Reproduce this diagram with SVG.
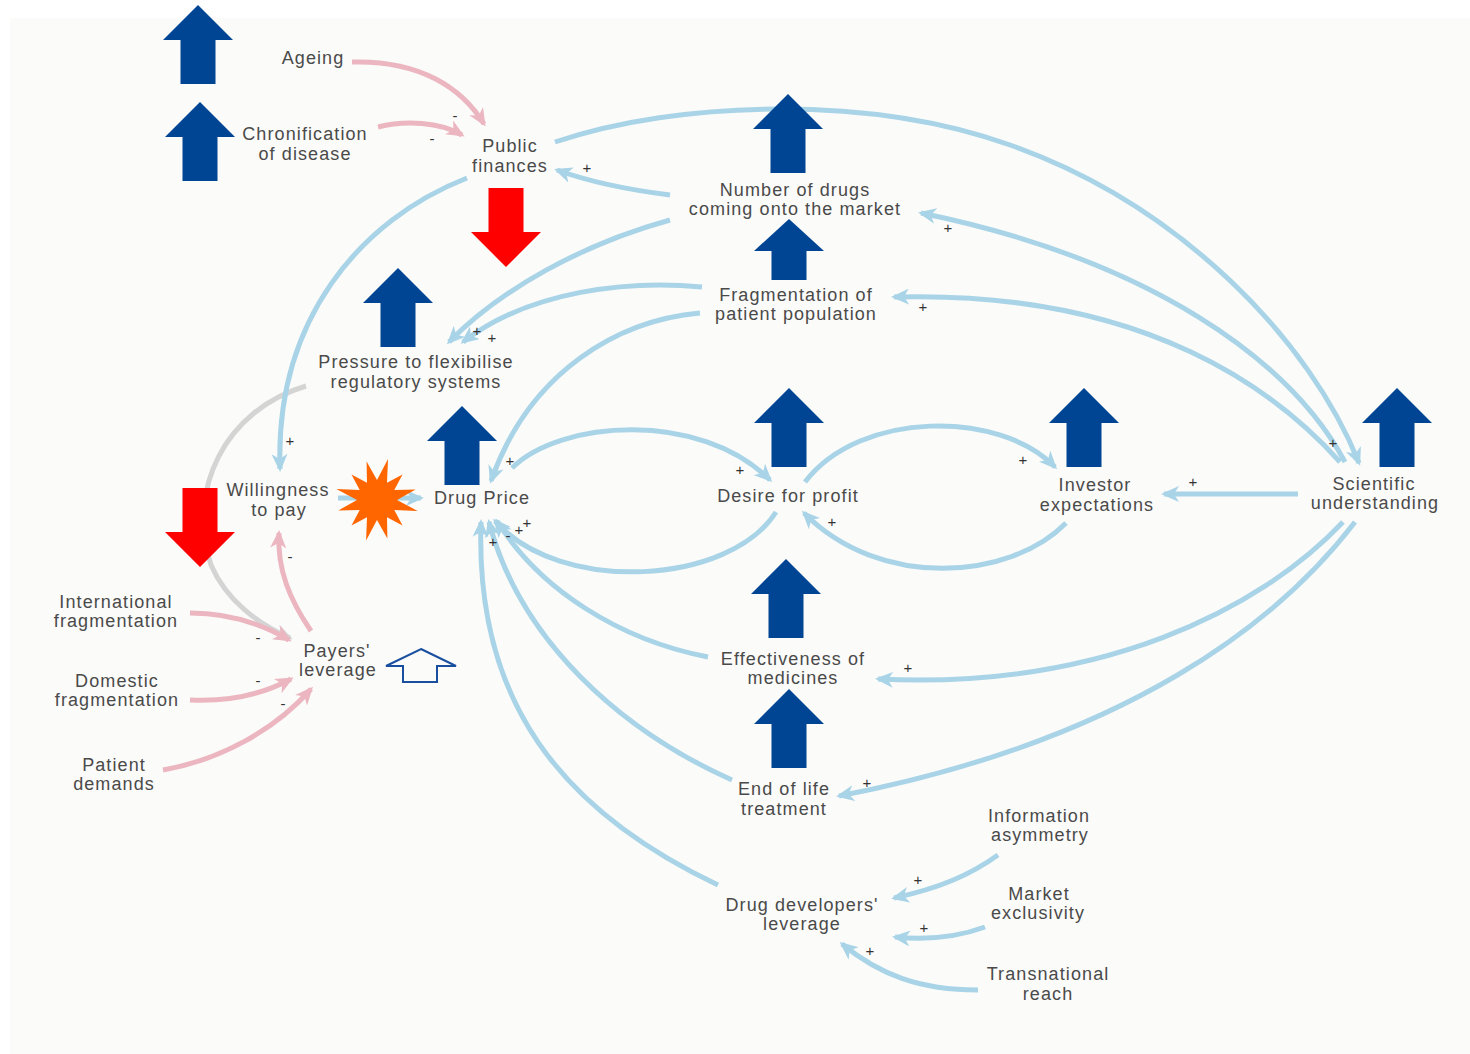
<svg xmlns="http://www.w3.org/2000/svg" xmlns:xlink="http://www.w3.org/1999/xlink" width="1470" height="1054" viewBox="0 0 1470 1054">
<style>
.t{font-family:"Liberation Sans",Arial,sans-serif;font-size:18px;fill:#4a4a4a;letter-spacing:1.1px;text-anchor:middle}
.s{font-family:"Liberation Sans",Arial,sans-serif;font-size:15px;fill:#333;text-anchor:middle}
.b{fill:none;stroke:#a9d4e7;stroke-width:5;marker-end:url(#mb)}
.p{fill:none;stroke:#ecb6c1;stroke-width:5;marker-end:url(#mp)}
.g{fill:none;stroke:#d4d4d4;stroke-width:5;marker-end:url(#mg)}
.up{fill:#004494}
.dn{fill:#ff0000}
</style>
<defs>
<marker id="mb" markerUnits="userSpaceOnUse" markerWidth="18" markerHeight="16" refX="15" refY="8" orient="auto"><path d="M0,0 L18,8 L0,16 L5,8 Z" fill="#a9d4e7"/></marker>
<marker id="mp" markerUnits="userSpaceOnUse" markerWidth="18" markerHeight="16" refX="15" refY="8" orient="auto"><path d="M0,0 L18,8 L0,16 L5,8 Z" fill="#ecb6c1"/></marker>
<marker id="mg" markerUnits="userSpaceOnUse" markerWidth="18" markerHeight="16" refX="15" refY="8" orient="auto"><path d="M0,0 L18,8 L0,16 L5,8 Z" fill="#d4d4d4"/></marker>
<path id="uparrow" d="M0,0 L35,35 L17.5,35 L17.5,79 L-17.5,79 L-17.5,35 L-35,35 Z"/>
<path id="dnarrow" d="M0,0 L-35,-35 L-17.5,-35 L-17.5,-79 L17.5,-79 L17.5,-35 L35,-35 Z"/>
</defs>
<rect x="0" y="0" width="1470" height="1054" fill="#ffffff"/>
<rect x="10" y="18" width="1460" height="1036" fill="#fbfbf9"/>

<g id="connectors">
<path class="p" d="M352,62 C420,60 462,88 484,124"/>
<path class="p" d="M378,127 C405,120 440,122 462,135"/>
<path class="g" d="M306,386 C225,410 186,490 211,565 C226,600 258,624 290,638"/>
<path class="p" d="M311,631 C290,600 277,570 279,533"/>
<path class="p" d="M190,613 C230,613 262,624 289,640"/>
<path class="p" d="M190,700 C230,702 265,693 291,679"/>
<path class="p" d="M163,770 C220,760 275,730 311,689"/>

<path class="b" d="M555,142 C680,100 870,95 1010,145 C1180,205 1310,340 1359,463"/>
<path class="b" d="M1345,462 C1290,360 1150,260 921,213"/>
<path class="b" d="M1340,462 C1280,395 1150,290 894,297"/>
<path class="b" d="M1298,494 L1164,494"/>
<path class="b" d="M1343,522 C1260,610 1100,690 878,679"/>
<path class="b" d="M1355,522 C1280,620 1130,740 839,796"/>
<path class="b" d="M1066,523 C1010,580 880,590 804,513"/>
<path class="b" d="M805,482 C860,410 1000,410 1055,467"/>
<path class="b" d="M512,468 C560,420 700,410 770,480"/>
<path class="b" d="M776,512 C730,585 560,595 495,521"/>
<path class="b" d="M700,313 C620,320 530,370 491,481"/>
<path class="b" d="M702,287 C630,280 530,290 463,342"/>
<path class="b" d="M670,220 C580,245 500,290 449,342"/>
<path class="b" d="M670,195 C630,190 590,182 557,170"/>
<path class="b" d="M467,178 C360,220 275,320 280,469"/>
<path class="b" d="M338,498 L421,498"/>
<path class="b" d="M708,657 C620,640 540,590 497,521"/>
<path class="b" d="M732,780 C620,730 520,640 489,522"/>
<path class="b" d="M718,885 C560,810 475,700 481,522"/>
<path class="b" d="M998,855 C970,875 940,888 894,898"/>
<path class="b" d="M985,927 C955,938 925,940 895,937"/>
<path class="b" d="M978,990 C920,990 880,975 842,944"/>

<g id="polarity">
<text class="s" x="455" y="121">-</text>
<text class="s" x="432" y="144">-</text>
<text class="s" x="290" y="562">-</text>
<text class="s" x="258" y="643">-</text>
<text class="s" x="258" y="686">-</text>
<text class="s" x="283" y="709">-</text>
<text class="s" x="587" y="173">+</text>
<text class="s" x="948" y="233">+</text>
<text class="s" x="923" y="312">+</text>
<text class="s" x="1333" y="448">+</text>
<text class="s" x="1193" y="487">+</text>
<text class="s" x="908" y="673">+</text>
<text class="s" x="867" y="788">+</text>
<text class="s" x="832" y="527">+</text>
<text class="s" x="1023" y="465">+</text>
<text class="s" x="740" y="475">+</text>
<text class="s" x="510" y="466">+</text>
<text class="s" x="477" y="336">+</text>
<text class="s" x="492" y="343">+</text>
<text class="s" x="290" y="446">+</text>
<text class="s" x="493" y="547">+</text>
<text class="s" x="508" y="541">-</text>
<text class="s" x="519" y="535">+</text>
<text class="s" x="527" y="528">+</text>
<text class="s" x="918" y="885">+</text>
<text class="s" x="924" y="933">+</text>
<text class="s" x="870" y="956">+</text>
</g>
</g>

<g id="ageing"><text class="t" x="313" y="64">Ageing</text></g>
<g id="chronification"><text class="t" x="305" y="140">Chronification</text><text class="t" x="305" y="160">of disease</text></g>
<g id="public-finances"><text class="t" x="510" y="152">Public</text><text class="t" x="510" y="172">finances</text></g>
<g id="number-of-drugs"><text class="t" x="795" y="196">Number of drugs</text><text class="t" x="795" y="215">coming onto the market</text></g>
<g id="fragmentation-patient"><text class="t" x="796" y="301">Fragmentation of</text><text class="t" x="796" y="320">patient population</text></g>
<g id="pressure"><text class="t" x="416" y="368">Pressure to flexibilise</text><text class="t" x="416" y="388">regulatory systems</text></g>
<g id="willingness"><text class="t" x="278" y="496">Willingness</text><text class="t" x="279" y="516">to pay</text></g>
<g id="drug-price"><text class="t" x="482" y="504">Drug Price</text></g>
<g id="desire-profit"><text class="t" x="788" y="502">Desire for profit</text></g>
<g id="investor"><text class="t" x="1095" y="491">Investor</text><text class="t" x="1097" y="511">expectations</text></g>
<g id="scientific"><text class="t" x="1374" y="490">Scientific</text><text class="t" x="1375" y="509">understanding</text></g>
<g id="effectiveness"><text class="t" x="793" y="665">Effectiveness of</text><text class="t" x="793" y="684">medicines</text></g>
<g id="end-of-life"><text class="t" x="784" y="795">End of life</text><text class="t" x="784" y="815">treatment</text></g>
<g id="information"><text class="t" x="1039" y="822">Information</text><text class="t" x="1040" y="841">asymmetry</text></g>
<g id="market"><text class="t" x="1039" y="900">Market</text><text class="t" x="1038" y="919">exclusivity</text></g>
<g id="transnational"><text class="t" x="1048" y="980">Transnational</text><text class="t" x="1048" y="1000">reach</text></g>
<g id="drug-developers"><text class="t" x="802" y="911">Drug developers'</text><text class="t" x="802" y="930">leverage</text></g>
<g id="international"><text class="t" x="116" y="608">International</text><text class="t" x="116" y="627">fragmentation</text></g>
<g id="domestic"><text class="t" x="117" y="687">Domestic</text><text class="t" x="117" y="706">fragmentation</text></g>
<g id="patient-demands"><text class="t" x="114" y="771">Patient</text><text class="t" x="114" y="790">demands</text></g>
<g id="payers"><text class="t" x="337" y="657">Payers'</text><text class="t" x="338" y="676">leverage</text></g>

<g id="indicators">
<use href="#uparrow" class="up" x="198" y="5"/>
<use href="#uparrow" class="up" x="200" y="102"/>
<use href="#uparrow" class="up" x="788" y="94"/>
<path class="up" d="M789,219 L824,251 L806.5,251 L806.5,280 L771.5,280 L771.5,251 L754,251 Z"/>
<use href="#uparrow" class="up" x="398" y="268"/>
<use href="#uparrow" class="up" x="462" y="406"/>
<use href="#uparrow" class="up" x="789" y="388"/>
<use href="#uparrow" class="up" x="1084" y="388"/>
<use href="#uparrow" class="up" x="1397" y="388"/>
<use href="#uparrow" class="up" x="786" y="559"/>
<use href="#uparrow" class="up" x="789" y="689"/>
<use href="#dnarrow" class="dn" x="506" y="267"/>
<use href="#dnarrow" class="dn" x="200" y="567"/>
<path d="M421,649 L456,666 L437,666 L437,682 L403,682 L403,666 L386,666 Z" fill="none" stroke="#1a4fa0" stroke-width="2"/>
<polygon fill="#ff6600" points="388,459 387,482.7 402.5,474.5 394.3,490 415.6,489.6 397,500 417.6,510.9 394.3,510 402.5,525.5 387,517.3 387.4,538.6 377,520 366.1,540.6 367,517.3 351.5,525.5 359.7,510 338.4,510.4 357,500 336.4,489.1 359.7,490 351.5,474.5 367,482.7 366.6,461.4 377,480"/>
</g>
</svg>
